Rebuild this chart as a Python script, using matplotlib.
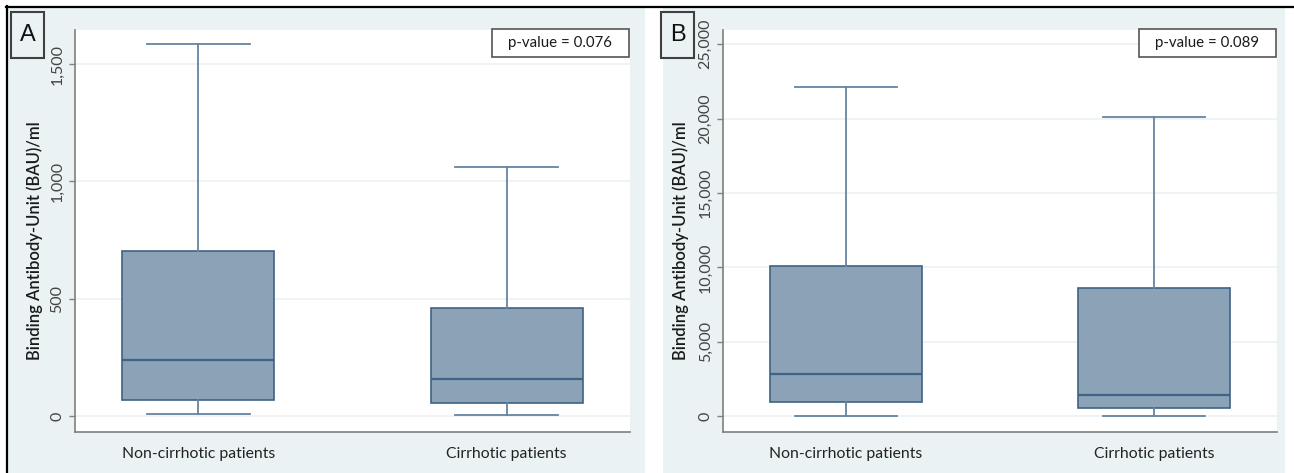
import matplotlib
matplotlib.use("Agg")
import matplotlib.pyplot as plt
from matplotlib.patches import Rectangle
from matplotlib.lines import Line2D
from matplotlib.ticker import FuncFormatter

# ---------------- data ----------------
categories = ["Non-cirrhotic patients", "Cirrhotic patients"]

# Panel A (BAU/ml)
a_whislo = [7, 4]
a_q1 = [69, 55]
a_med = [237, 156]
a_q3 = [704, 462]
a_whishi = [1585, 1060]
a_ticks = [0, 500, 1000, 1500]
a_pvalue = "p-value = 0.076"

# Panel B (BAU/ml)
b_whislo = [20, 10]
b_q1 = [941, 560]
b_med = [2845, 1392]
b_q3 = [10108, 8588]
b_whishi = [22146, 20100]
b_ticks = [0, 5000, 10000, 15000, 20000, 25000]
b_pvalue = "p-value = 0.089"

ylabel = "Binding Antibody-Unit (BAU)/ml"

# ---------------- style ----------------
plt.rcParams['font.family'] = ['Lato', 'DejaVu Sans']
W, H = 1294, 473
fig = plt.figure(figsize=(W / 100, H / 100), dpi=100)
fig.patch.set_facecolor("white")

BG = "#eaf2f3"
FILL = "#8ca2b6"
EDGE = "#3f6384"
WHISK = "#6683a0"
AXC = "#7f7f7f"
GRID = "#edf3f4"


def px_rect(x0, y0, x1, y1, **kw):
    """rectangle in figure pixel coordinates (top-left origin)"""
    r = Rectangle((x0 / W, 1 - y1 / H), (x1 - x0) / W, (y1 - y0) / H,
                  transform=fig.transFigure, **kw)
    fig.add_artist(r)
    return r


# panel backgrounds
px_rect(8, 8, 645, 473, facecolor=BG, edgecolor="none", zorder=0)
px_rect(663, 8, 1285, 473, facecolor=BG, edgecolor="none", zorder=0)
# black frame lines (top and left)
fig.add_artist(Line2D([6 / W, 1], [1 - 7 / H, 1 - 7 / H], color="black", lw=1.6,
                      transform=fig.transFigure, zorder=5))
fig.add_artist(Line2D([7 / W, 7 / W], [0, 1 - 6 / H], color="black", lw=1.6,
                      transform=fig.transFigure, zorder=5))


def panel(x0, x1, whislo, q1, med, q3, whishi, ticks, ylim, pval, letter, lx0, lblx):
    y0, y1 = 30, 432
    ax = fig.add_axes([x0 / W, 1 - y1 / H, (x1 - x0) / W, (y1 - y0) / H])
    ax.set_facecolor("white")
    stats = []
    for i in range(len(categories)):
        stats.append(dict(whislo=whislo[i], q1=q1[i], med=med[i], q3=q3[i],
                          whishi=whishi[i], fliers=[], label=categories[i]))
    ax.bxp(stats, positions=[1, 2], widths=0.494, capwidths=0.332,
           patch_artist=True, showfliers=False,
           boxprops=dict(facecolor=FILL, edgecolor=EDGE, linewidth=1.2),
           medianprops=dict(color=EDGE, linewidth=1.6),
           whiskerprops=dict(color=WHISK, linewidth=1.3),
           capprops=dict(color=WHISK, linewidth=1.3), zorder=3)
    ax.set_xlim(0.6, 2.4)
    ax.set_ylim(*ylim)
    ax.set_yticks(ticks)
    ax.yaxis.set_major_formatter(FuncFormatter(lambda v, p: f"{int(v):,}"))
    ax.grid(axis="y", color=GRID, linewidth=1.3, zorder=0)
    ax.set_axisbelow(True)
    for s in ("top", "right"):
        ax.spines[s].set_visible(False)
    for s in ("left", "bottom"):
        ax.spines[s].set_color(AXC)
        ax.spines[s].set_linewidth(1.2)
    ax.tick_params(axis="y", length=4.5, width=1.0, color=AXC, pad=3,
                   labelsize=11.5, labelcolor="#444444")
    for t in ax.get_yticklabels():
        t.set_rotation(90)
        t.set_va("center")
    ax.tick_params(axis="x", length=0, pad=11, labelsize=11.3, labelcolor="#222222")
    ax.set_ylabel(ylabel, fontsize=12, color="#1a1a1a", fontweight="semibold")
    ax.yaxis.set_label_coords(lblx, 0.475)

    # p-value box at top right of plot region
    ax.add_patch(Rectangle((0.751, 0.933), 0.247, 0.069, transform=ax.transAxes,
                           facecolor="white", edgecolor="#555555", linewidth=1.2,
                           zorder=6, clip_on=False))
    ax.text(0.8745, 0.967, pval, transform=ax.transAxes, ha="center", va="center",
            fontsize=10.8, color="#1a1a1a", zorder=7)

    # panel letter
    px_rect(lx0, 12, lx0 + 33, 58, facecolor=BG, edgecolor="#404040", linewidth=1.5, zorder=6)
    fig.text((lx0 + 16.5) / W, 1 - 35 / H, letter, ha="center", va="center",
             fontsize=17, family=["Liberation Sans", "DejaVu Sans"], color="#111111",
             zorder=7)
    return ax


panel(75, 630, a_whislo, a_q1, a_med, a_q3, a_whishi, a_ticks,
      (-68.2, 1645.4), a_pvalue, "A", 11, -0.058)
panel(723, 1277, b_whislo, b_q1, b_med, b_q3, b_whishi, b_ticks,
      (-1076, 25958), b_pvalue, "B", 661, -0.061)

fig.savefig("out.png", dpi=100, facecolor="white")
